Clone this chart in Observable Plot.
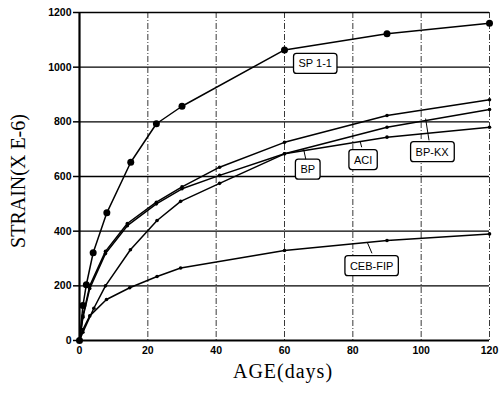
<!DOCTYPE html>
<html><head><meta charset="utf-8">
<script src="https://cdn.jsdelivr.net/npm/d3@7"></script>
<script src="https://cdn.jsdelivr.net/npm/@observablehq/plot@0.6"></script>
<style>body{margin:0;background:#fff} svg{display:block}</style>
</head><body><div id="chart"></div>
<script>
const xTicks = [0, 20, 40, 60, 80, 100, 120];
const yTicks = [0, 200, 400, 600, 800, 1000, 1200];
const xGrid = [20, 40, 60, 80, 100, 120];
const yGrid = [200, 400, 600, 800, 1000];

const sp11Age = [0, 1, 2, 4, 8, 15, 22.5, 30, 60, 90, 120];
const sp11Strain = [0, 128, 204, 321, 467, 652, 793, 857, 1063, 1122, 1161];
const bpkxAge = [0, 1, 3, 7.6, 14, 22.5, 30, 41, 60, 90, 120];
const bpkxStrain = [0, 90, 200, 326, 428, 506, 562, 634, 725, 823, 881];
const aciAge = [0, 1, 4.2, 7.6, 14.9, 22.7, 29.6, 41, 60, 90, 120];
const aciStrain = [0, 30, 118, 200, 332, 439, 509, 575, 683, 780, 845];
const bpAge = [0, 1, 3, 7.6, 14, 22.5, 30, 41, 60, 90, 120];
const bpStrain = [0, 85, 190, 318, 420, 500, 555, 604, 683, 744, 780];
const cebAge = [0, 1, 3, 7.9, 14.7, 22.7, 29.6, 60, 90, 120];
const cebStrain = [0, 40, 90, 150, 193, 234, 265, 329, 366, 390];

const calloutText = ["SP 1-1", "BP", "ACI", "BP-KX", "CEB-FIP"];
const calloutAge = [69, 66.8, 83, 103.2, 85.5];
const calloutStrain = [1012, 625, 660, 689, 272];
const leaderAge1 = [65.6, 82.1, 101.3, 84.2];
const leaderStrain1 = [700, 730, 812, 360];
const leaderAge2 = [66.3, 82.6, 102.3, 85.6];
const leaderStrain2 = [659, 707, 732, 319];

const toRows = (name, ages, vals) => ages.map((a, i) => ({series: name, age: a, strain: vals[i]}));
const sp = toRows("SP 1-1", sp11Age, sp11Strain);
const others = [
  ...toRows("BP-KX", bpkxAge, bpkxStrain),
  ...toRows("ACI", aciAge, aciStrain),
  ...toRows("BP", bpAge, bpStrain),
  ...toRows("CEB-FIP", cebAge, cebStrain)
];
const callouts = calloutText.map((t, i) => ({t, age: calloutAge[i], strain: calloutStrain[i]}));
const leaders = leaderAge1.map((a, i) => ({x1: a, y1: leaderStrain1[i], x2: leaderAge2[i], y2: leaderStrain2[i]}));

const chart = Plot.plot({
  width: 502, height: 394,
  marginLeft: 79, marginRight: 13, marginTop: 12, marginBottom: 54,
  x: {domain: [0, 120]},
  y: {domain: [0, 1200]},
  style: {fontFamily: "Liberation Sans, Arial, sans-serif", fontSize: "10px", fontWeight: "bold", color: "#000", background: "#fff"},
  marks: [
    Plot.ruleY(yGrid, {stroke: "#000", strokeWidth: 1.3}),
    Plot.ruleX(xGrid, {stroke: "#222", strokeWidth: 0.9, strokeDasharray: "6,2,1,2"}),
    Plot.ruleY([1200], {stroke: "#000", strokeWidth: 1.6}),
    Plot.ruleX([0], {stroke: "#000", strokeWidth: 2.2}),
    Plot.ruleY([0], {stroke: "#000", strokeWidth: 2.2}),
    Plot.axisY(yTicks, {tickSize: 6, tickPadding: 2, label: null, strokeWidth: 1.5, tickFormat: d3.format("d"), fontSize: 10.5}),
    Plot.axisX(xTicks, {tickSize: 0, tickPadding: 6, label: null, tickFormat: d3.format("d"), fontSize: 10.5}),
    Plot.line(others, {x: "age", y: "strain", z: "series", stroke: "#000", strokeWidth: 1.5}),
    Plot.dot(others, {x: "age", y: "strain", r: 1.8, fill: "#000"}),
    Plot.line(sp, {x: "age", y: "strain", stroke: "#000", strokeWidth: 1.5}),
    Plot.dot(sp, {x: "age", y: "strain", r: 3.5, fill: "#000"}),
    Plot.link(leaders, {x1: "x1", y1: "y1", x2: "x2", y2: "y2", stroke: "#000", strokeWidth: 1}),
    Plot.text(callouts, {x: "age", y: "strain", text: "t", fontSize: 11, fontWeight: "normal", fill: "#000"})
  ]
});
document.getElementById("chart").appendChild(chart);

// boxes behind callout labels
const labelSet = new Set(calloutText);
d3.select(chart).selectAll("text").filter(function() {
  return labelSet.has(this.textContent);
}).each(function() {
  const b = this.getBBox();
  const r = document.createElementNS("http://www.w3.org/2000/svg", "rect");
  r.setAttribute("x", b.x - 5);
  r.setAttribute("y", b.y - 4);
  r.setAttribute("width", b.width + 10);
  r.setAttribute("height", b.height + 8);
  r.setAttribute("rx", 3);
  r.setAttribute("fill", "#fff");
  r.setAttribute("stroke", "#000");
  r.setAttribute("stroke-width", 1.3);
  const tr = this.getAttribute("transform");
  if (tr) r.setAttribute("transform", tr);
  this.parentNode.insertBefore(r, this);
});

const svg = d3.select(chart);
svg.append("text").attr("x", 283).attr("y", 378).attr("text-anchor", "middle")
  .attr("font-family", "Liberation Serif, Times New Roman, serif").attr("font-size", 20)
  .attr("font-weight", "normal").attr("letter-spacing", 1).attr("fill", "#000").text("AGE(days)");
svg.append("text").attr("transform", "translate(25,181) rotate(-90)").attr("text-anchor", "middle")
  .attr("font-family", "Liberation Serif, Times New Roman, serif").attr("font-size", 20)
  .attr("font-weight", "normal").attr("fill", "#000").text("STRAIN(X E-6)");
</script>
</body></html>
